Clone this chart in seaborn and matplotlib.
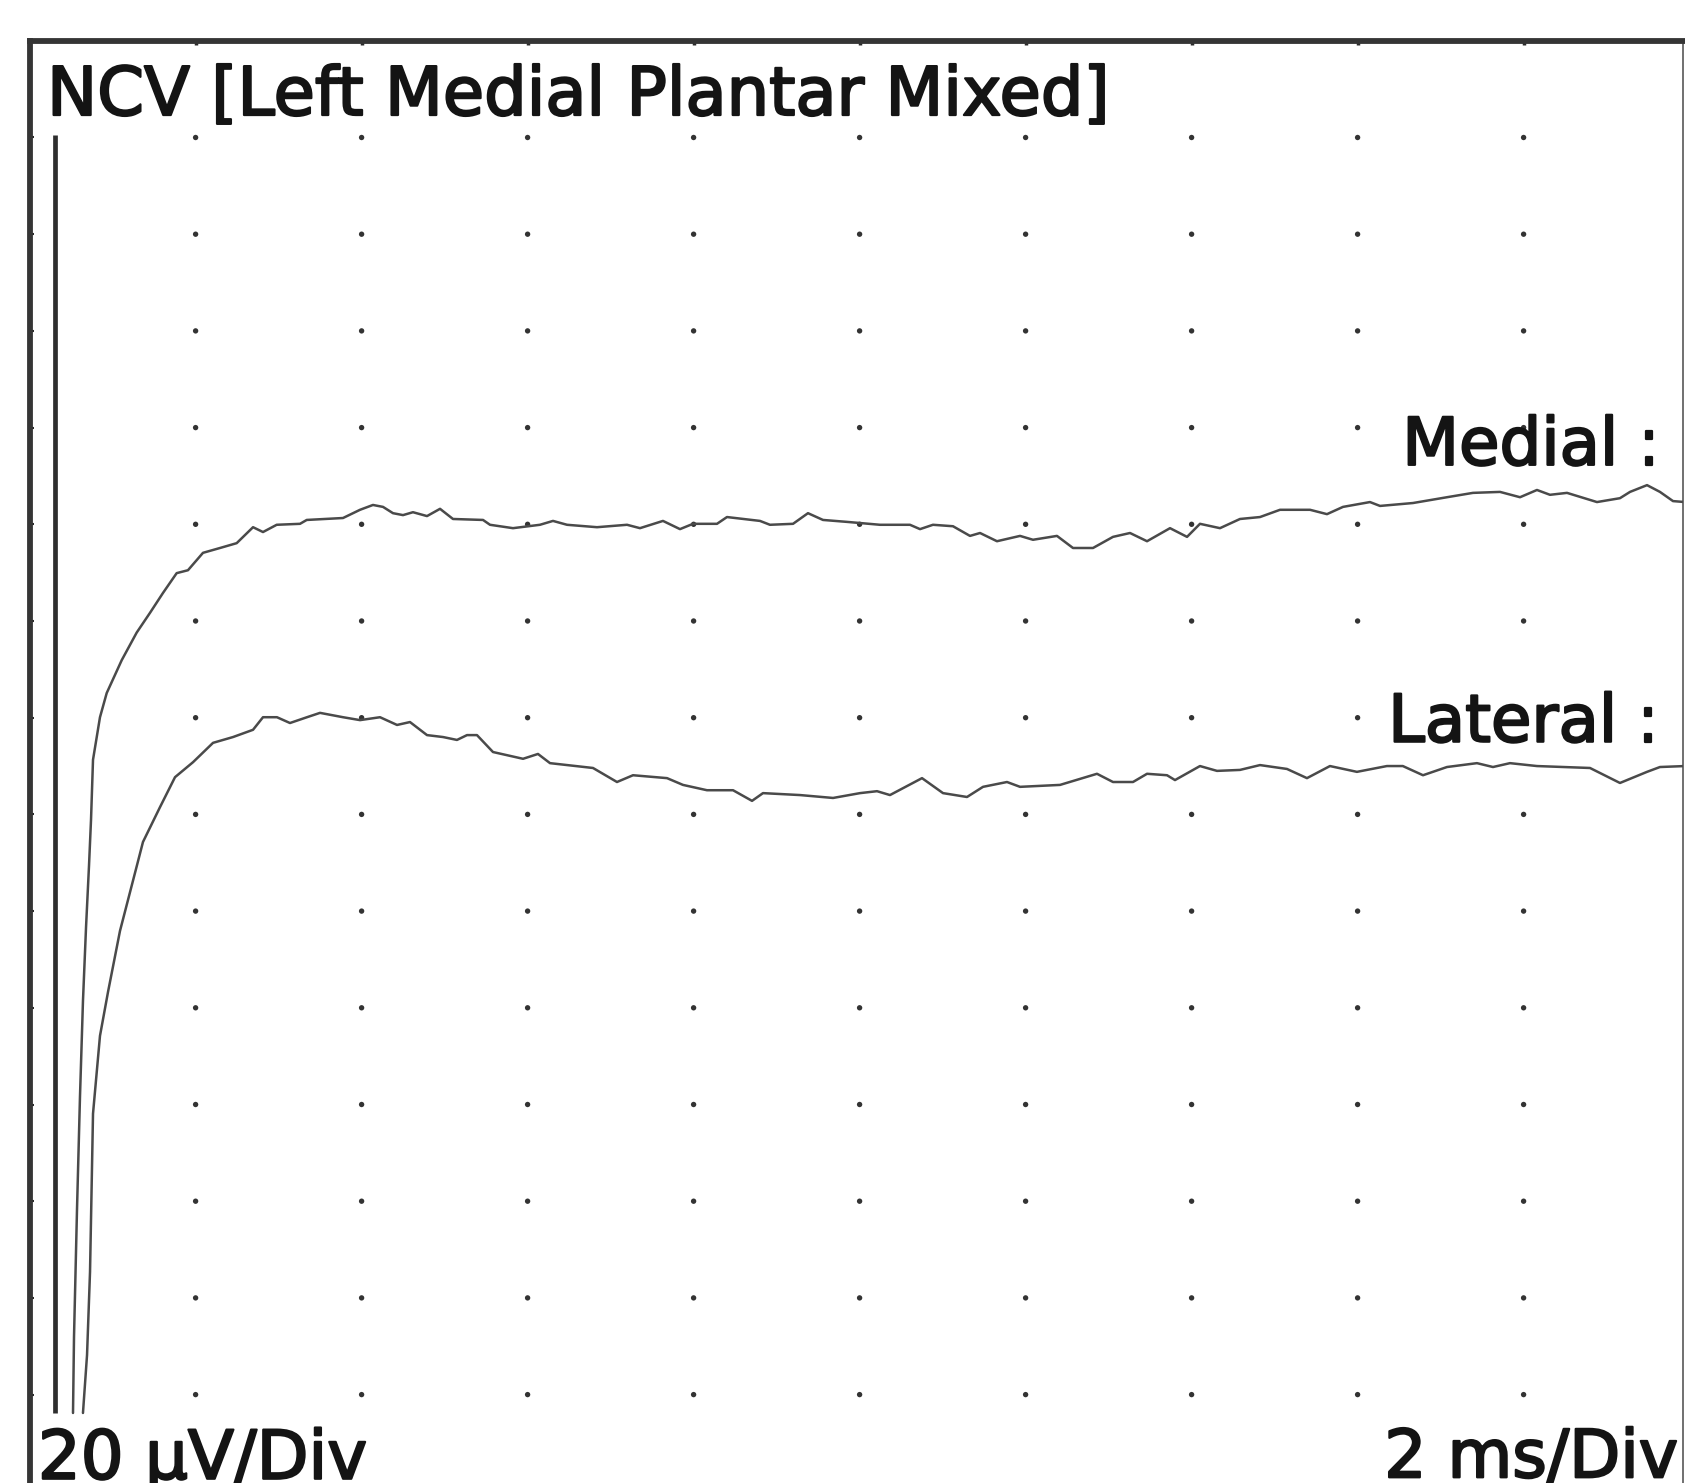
import numpy as np
import pandas as pd
import matplotlib
matplotlib.use("Agg")
import matplotlib.pyplot as plt
import matplotlib.patheffects as pe
import seaborn as sns

# ---------------- data (time in ms, amplitude in µV relative to trace baseline) -------------
medial_t = [0.523, 0.535, 0.571, 0.607, 0.643, 0.680, 0.716, 0.740, 0.764, 0.848, 0.929,
            1.110, 1.290, 1.451, 1.607, 1.772, 1.908, 2.089, 2.294, 2.495, 2.692, 2.812,
            2.977, 3.258, 3.339, 3.776, 3.981, 4.137, 4.258, 4.378, 4.499, 4.619, 4.788,
            4.945, 5.101, 5.463, 5.547, 5.824, 6.149, 6.306, 6.475, 6.836, 7.198, 7.354,
            7.631, 7.836, 7.993, 8.282, 8.402, 8.800, 8.920, 9.198, 9.378, 9.559, 9.848,
            10.246, 10.607, 10.728, 10.884, 11.125, 11.330, 11.451, 11.655, 11.933, 12.089,
            12.378, 12.571, 12.812, 13.053, 13.258, 13.463, 13.740, 13.945, 14.101, 14.342,
            14.583, 14.824, 15.065, 15.427, 15.631, 15.824, 16.149, 16.270, 16.667, 17.077,
            17.390, 17.716, 17.957, 18.161, 18.318, 18.523, 18.884, 19.161, 19.282, 19.487,
            19.643, 19.800, 19.945]
medial_uv = [-183.8, -168.1, -141.8, -118.4, -98.6, -83.3, -70.5, -61.1, -48.7, -39.9, -34.9,
             -28.1, -22.4, -18.3, -14.2, -10.1, -9.5, -5.9, -4.9, -3.9, -0.6, -1.6,
             -0.1, 0.1, 0.9, 1.3, 3.0, 4.0, 3.6, 2.3, 1.9, 2.5, 1.7,
             3.2, 1.1, 0.9, -0.1, -0.8, -0.1, 0.7, -0.1, -0.6, -0.1, -0.8,
             0.7, -1.0, 0.1, 0.1, 1.5, 0.7, -0.1, 0.1, 2.3, 0.9, 0.5,
             -0.1, -0.1, -1.0, -0.1, -0.4, -2.4, -1.8, -3.5, -2.4, -3.2,
             -2.4, -4.9, -4.9, -2.6, -1.8, -3.5, -0.8, -2.6, 0.1, -0.8,
             1.1, 1.5, 3.0, 3.0, 2.1, 3.6, 4.6, 3.8, 4.4, 5.6,
             6.5, 6.7, 5.6, 7.1, 6.1, 6.5, 4.6, 5.4, 6.7, 8.1,
             6.7, 4.8, 4.6]

lateral_t = [0.643, 0.692, 0.728, 0.764, 0.848, 0.945, 1.089, 1.294, 1.366, 1.571, 1.752,
             1.969, 2.210, 2.451, 2.692, 2.812, 2.980, 3.137, 3.342, 3.499, 3.776, 3.981,
             4.222, 4.427, 4.583, 4.788, 4.981, 5.149, 5.270, 5.390, 5.583, 5.945, 6.125,
             6.270, 6.788, 7.077, 7.270, 7.680, 7.872, 8.161, 8.475, 8.704, 8.836, 9.282,
             9.680, 10.005, 10.210, 10.366, 10.752, 11.005, 11.294, 11.487, 11.776, 11.933,
             12.415, 12.860, 13.053, 13.294, 13.463, 13.704, 13.800, 14.101, 14.306, 14.583,
             14.824, 15.149, 15.390, 15.667, 15.992, 16.353, 16.545, 16.788, 17.077, 17.438,
             17.631, 17.836, 18.161, 18.800, 19.161, 19.487, 19.643, 19.945]
lateral_uv = [-123.8, -111.8, -94.6, -61.9, -45.8, -36.7, -24.1, -10.5, -5.7, 1.5, 7.7,
              10.8, 14.8, 16.0, 17.5, 20.1, 20.1, 18.9, 20.1, 21.0, 20.1, 19.5,
              20.1, 18.5, 19.1, 16.4, 16.0, 15.4, 16.4, 16.4, 12.9, 11.5, 12.5,
              10.6, 9.6, 6.7, 8.1, 7.5, 6.1, 5.0, 5.0, 2.8, 4.4, 4.0,
              3.4, 4.4, 4.8, 4.0, 7.5, 4.4, 3.6, 5.7, 6.7, 5.7,
              6.1, 8.4, 6.7, 6.7, 8.4, 8.1, 7.1, 10.0, 9.0, 9.2,
              10.2, 9.4, 7.5, 10.0, 8.8, 10.0, 10.0, 8.1, 9.8, 10.6,
              9.8, 10.6, 10.0, 9.6, 6.5, 8.8, 9.8, 10.0]

trace_names = ["Medial", "Lateral"]
title_text = "NCV [Left Medial Plantar Mixed]"
gain_text = "20 µV/Div"
sweep_text = "2 ms/Div"

# ---------------- layout / style ----------------
UV_PER_DIV = 20
MS_PER_DIV = 2
medial_offset = -5 * UV_PER_DIV
lateral_offset = -8 * UV_PER_DIV
marker_t = 0.306
marker_top, marker_bottom = -19.5, -283.8

W, H = 1685, 1483
fig = plt.figure(figsize=(W / 100, H / 100), dpi=100)
sns.set_theme(style="white")
plt.rcParams["font.family"] = ["DejaVu Sans"]

ax = fig.add_axes([29.6 / W, 0.0, (1683 - 29.6) / W, 1 - 40.8 / H])
ax.set_facecolor("white")

# grid dots
gx = np.arange(MS_PER_DIV, 20, MS_PER_DIV)
gy = -UV_PER_DIV * np.arange(1, 15)
GX, GY = np.meshgrid(gx, gy)
sns.scatterplot(x=GX.ravel(), y=GY.ravel(), ax=ax, s=15, color="#333333",
                edgecolor="none", marker="o", legend=False, zorder=1)

# traces
df = pd.concat([
    pd.DataFrame({"t": medial_t, "y": np.array(medial_uv) + medial_offset, "trace": trace_names[0]}),
    pd.DataFrame({"t": lateral_t, "y": np.array(lateral_uv) + lateral_offset, "trace": trace_names[1]}),
])
for name in trace_names:
    sub = df[df["trace"] == name]
    sns.lineplot(data=sub, x="t", y="y", ax=ax, sort=False, estimator=None,
                 color="#4a4a4a", linewidth=1.8, legend=False, zorder=3)

# stimulus marker
ax.plot([marker_t, marker_t], [marker_top, marker_bottom], color="#2e2e2e",
        linewidth=3.4, solid_capstyle="butt", zorder=2)

ax.set_xlim(0, (1683 - 29.6) / 83)
ax.set_ylim(-(H - 40.8) / 4.835, 0)
ax.set_xlabel("")
ax.set_ylabel("")

# frame
for side in ["top", "left"]:
    ax.spines[side].set_visible(True)
    ax.spines[side].set_linewidth(4.2)
    ax.spines[side].set_color("#353535")
ax.spines["right"].set_visible(True)
ax.spines["right"].set_linewidth(1.4)
ax.spines["right"].set_color("#707070")
ax.spines["bottom"].set_visible(False)

ax.set_xticks(gx)
ax.set_yticks(gy)
ax.tick_params(axis="x", which="both", bottom=False, top=True, labelbottom=False,
               labeltop=False, direction="in", length=3, width=2.5, color="#2a2a2a")
ax.tick_params(axis="y", which="both", left=True, right=False, labelleft=False,
               direction="in", length=3, width=1.5, color="#2a2a2a")

tc = "#141414"
bold = [pe.withStroke(linewidth=1.6, foreground=tc)]
def label(x, y, s, fs, ha):
    ax.text(x, y, s, fontsize=fs, color=tc, ha=ha, va="baseline",
            clip_on=False, path_effects=bold)

label(0.21, -15.35, title_text, 48.3, "left")
label(19.14, -87.7, trace_names[0], 47.4, "right")
label(19.51, -87.7, ":", 47.4, "center")
label(19.13, -144.96, trace_names[1], 47.4, "right")
label(19.50, -144.96, ":", 47.4, "center")
label(0.10, -297.4, gain_text, 48.5, "left")
label(19.86, -297.1, sweep_text, 47.8, "right")

fig.savefig("out.png", dpi=100, facecolor="white")
